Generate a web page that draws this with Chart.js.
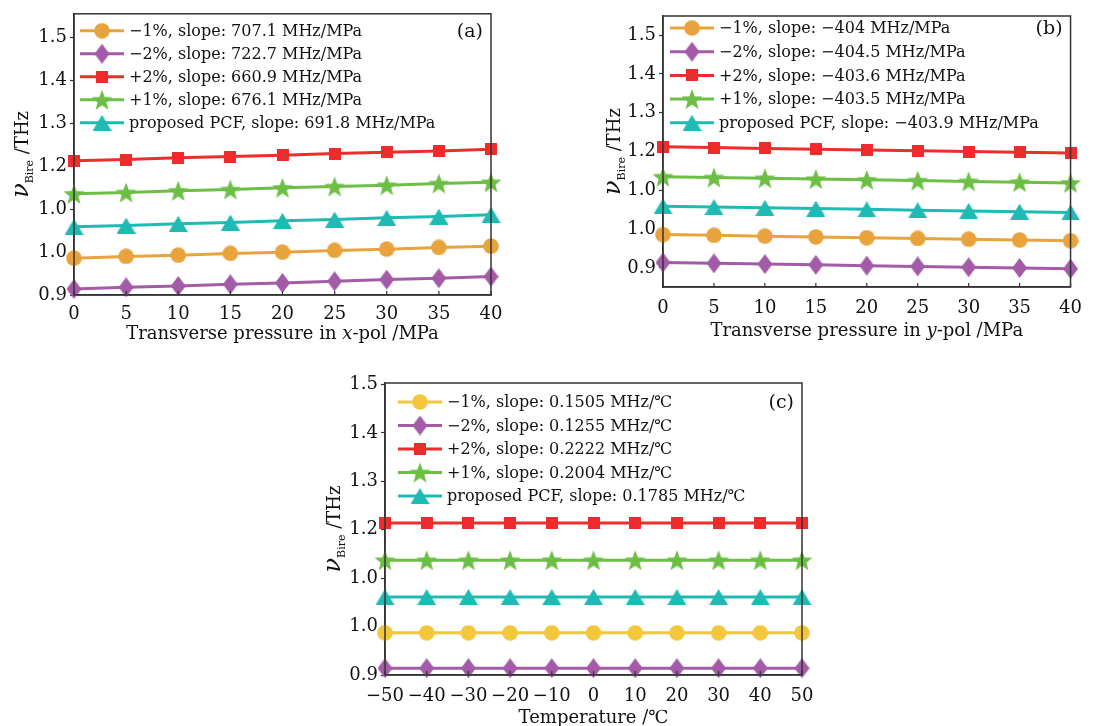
<!DOCTYPE html>
<html>
<head>
<meta charset="utf-8">
<script src="https://cdn.jsdelivr.net/npm/chart.js@4.4.1/dist/chart.umd.min.js"></script>
<style>
  body { margin: 0; background: #fff; width: 1093px; height: 726px; position: relative; overflow: hidden; }
  .panel { position: absolute; }
</style>
</head>
<body>
<div class="panel" style="left:0;top:0"><canvas id="chartA" width="520" height="345"></canvas></div>
<div class="panel" style="left:580px;top:0"><canvas id="chartB" width="513" height="345"></canvas></div>
<div class="panel" style="left:300px;top:360px"><canvas id="chartC" width="530" height="366"></canvas></div>
<script>
// x values
const pressure = [0, 5, 10, 15, 20, 25, 30, 35, 40];
const temperature = [-50, -40, -30, -20, -10, 0, 10, 20, 30, 40, 50];

// y ticks (labels as printed in the figure)
const yTickValues = [0.9, 1.0, 1.1, 1.2, 1.3, 1.4, 1.5];
const yTickLabels = ['0.9', '1.0', '1.0', '1.2', '1.3', '1.4', '1.5'];

const seriesNames = ['−1%', '−2%', '+2%', '+1%', 'proposed PCF'];
const slopesA = ['707.1', '722.7', '660.9', '676.1', '691.8'];
const slopesB = ['−404', '−404.5', '−403.6', '−403.5', '−403.9'];
const slopesC = ['0.1505', '0.1255', '0.2222', '0.2004', '0.1785'];

// (a) x-pol pressure, THz
const minus1A = [0.986, 0.990, 0.993, 0.997, 1.000, 1.004, 1.007, 1.011, 1.014];
const minus2A = [0.914, 0.918, 0.921, 0.925, 0.928, 0.932, 0.936, 0.939, 0.943];
const plus2A = [1.213, 1.216, 1.220, 1.223, 1.226, 1.230, 1.233, 1.236, 1.240];
const plus1A = [1.136, 1.139, 1.143, 1.146, 1.150, 1.153, 1.156, 1.160, 1.163];
const pcfA = [1.059, 1.062, 1.066, 1.069, 1.073, 1.076, 1.080, 1.083, 1.087];

// (b) y-pol pressure
const minus1B = [0.986, 0.984, 0.982, 0.980, 0.978, 0.976, 0.974, 0.972, 0.970];
const minus2B = [0.914, 0.912, 0.910, 0.908, 0.906, 0.904, 0.902, 0.900, 0.898];
const plus2B = [1.212, 1.210, 1.208, 1.206, 1.204, 1.202, 1.200, 1.198, 1.196];
const plus1B = [1.135, 1.133, 1.131, 1.129, 1.127, 1.125, 1.123, 1.121, 1.119];
const pcfB = [1.059, 1.057, 1.055, 1.053, 1.051, 1.049, 1.047, 1.045, 1.043];

// (c) temperature
const minus1C = [0.987, 0.987, 0.987, 0.987, 0.987, 0.987, 0.987, 0.987, 0.987, 0.987, 0.987];
const minus2C = [0.914, 0.914, 0.914, 0.914, 0.914, 0.914, 0.914, 0.914, 0.914, 0.914, 0.914];
const plus2C = [1.214, 1.214, 1.214, 1.214, 1.214, 1.214, 1.214, 1.214, 1.214, 1.214, 1.214];
const plus1C = [1.137, 1.137, 1.137, 1.137, 1.137, 1.137, 1.137, 1.137, 1.137, 1.137, 1.137];
const pcfC = [1.061, 1.061, 1.061, 1.061, 1.061, 1.061, 1.061, 1.061, 1.061, 1.061, 1.061];

const colorsAB = ['#E8A33C', '#A35BA8', '#EE2C2C', '#6CBF44', '#20BAB4'];
const colorsC = ['#F4C63B', '#A35BA8', '#EE2C2C', '#6CBF44', '#20BAB4'];
const shapes = ['circle', 'diamond', 'square', 'star', 'triangle'];

const FONT = "'DejaVu Serif', 'Liberation Serif', serif";
const INK = '#111';
Chart.defaults.font.family = FONT;
Chart.defaults.color = INK;

function makeMarker(shape, color) {
  const c = document.createElement('canvas');
  const ctx = c.getContext('2d');
  ctx.fillStyle = color;
  if (shape === 'circle') {
    c.width = 16; c.height = 16;
    ctx.fillStyle = color;
    ctx.beginPath();
    ctx.arc(8, 8, 7.8, 0, Math.PI * 2);
    ctx.fill();
  } else if (shape === 'diamond') {
    c.width = 15; c.height = 20;
    ctx.fillStyle = color;
    ctx.beginPath();
    ctx.moveTo(7.5, 0); ctx.lineTo(15, 10); ctx.lineTo(7.5, 20); ctx.lineTo(0, 10);
    ctx.closePath();
    ctx.fill();
  } else if (shape === 'square') {
    c.width = 12; c.height = 12;
    ctx.fillStyle = color;
    ctx.fillRect(0, 0, 12, 12);
  } else if (shape === 'star') {
    c.width = 22; c.height = 22;
    ctx.fillStyle = color;
    ctx.beginPath();
    for (let k = 0; k < 10; k++) {
      const r = k % 2 === 0 ? 11 : 4.6;
      const a = -Math.PI / 2 + k * Math.PI / 5;
      const px = 11 + r * Math.cos(a);
      const py = 12 + r * Math.sin(a);
      if (k === 0) ctx.moveTo(px, py); else ctx.lineTo(px, py);
    }
    ctx.closePath();
    ctx.fill();
  } else {
    c.width = 19; c.height = 16;
    ctx.fillStyle = color;
    ctx.beginPath();
    ctx.moveTo(9.5, 0); ctx.lineTo(19, 16); ctx.lineTo(0, 16);
    ctx.closePath();
    ctx.fill();
  }
  return c;
}

function drawParts(ctx, parts, x, y) {
  parts.forEach((p) => {
    ctx.font = p.font;
    ctx.fillText(p.t, x, y + (p.dy || 0));
    x += ctx.measureText(p.t).width;
  });
}

function partsWidth(ctx, parts) {
  return parts.reduce((acc, p) => {
    ctx.font = p.font;
    return acc + ctx.measureText(p.t).width;
  }, 0);
}

const decor = {
  id: 'decor',
  afterDraw(chart, args, opts) {
    const ctx = chart.ctx;
    const area = chart.chartArea;
    ctx.save();

    // frame
    ctx.strokeStyle = '#333';
    ctx.lineWidth = 1.5;
    ctx.strokeRect(area.left, area.top, area.right - area.left, area.bottom - area.top);

    // inward x ticks
    const xs = chart.scales.x;
    ctx.lineWidth = 1.2;
    xs.ticks.forEach((t) => {
      const px = xs.getPixelForValue(t.value);
      ctx.beginPath();
      ctx.moveTo(px, area.bottom);
      ctx.lineTo(px, area.bottom - 4);
      ctx.stroke();
    });

    // legend
    ctx.textBaseline = 'middle';
    ctx.textAlign = 'left';
    opts.labels.forEach((label, i) => {
      const y = area.top + opts.legTop + i * opts.legStep;
      const x0 = area.left + opts.legLeft;
      ctx.strokeStyle = opts.colors[i];
      ctx.lineWidth = 3;
      ctx.beginPath();
      ctx.moveTo(x0, y);
      ctx.lineTo(x0 + 44, y);
      ctx.stroke();
      const m = opts.markers[i];
      ctx.drawImage(m, x0 + 22 - m.width / 2, y - m.height / 2);
      ctx.fillStyle = INK;
      ctx.font = `16px ${FONT}`;
      ctx.fillText(label, x0 + 49, y + 1);
    });

    // panel letter
    ctx.font = `19px ${FONT}`;
    ctx.textAlign = 'right';
    ctx.fillText(opts.letter, area.right - 8, area.top + opts.legTop + 1);

    // x title
    ctx.textAlign = 'left';
    ctx.textBaseline = 'alphabetic';
    const xw = partsWidth(ctx, opts.xTitle);
    drawParts(ctx, opts.xTitle, (area.left + area.right) / 2 - xw / 2, area.bottom + opts.xTitleGap);

    // y title
    const yParts = [
      { t: 'ν', font: `italic 24px ${FONT}` },
      { t: 'Bire', font: `11px ${FONT}`, dy: 5 },
      { t: ' /THz', font: `18px ${FONT}` },
    ];
    const yw = partsWidth(ctx, yParts);
    ctx.translate(opts.yTitleX, (area.top + area.bottom) / 2);
    ctx.rotate(-Math.PI / 2);
    drawParts(ctx, yParts, -yw / 2, 0);

    ctx.restore();
  },
};

function makeChart(id, cfg) {
  const markers = shapes.map((s, i) => makeMarker(s, cfg.colors[i]));
  return new Chart(document.getElementById(id), {
    type: 'line',
    data: {
      datasets: cfg.series.map((values, i) => ({
        label: seriesNames[i],
        data: cfg.x.map((x, j) => ({ x, y: values[j] })),
        borderColor: cfg.colors[i],
        backgroundColor: cfg.colors[i],
        borderWidth: 3,
        pointStyle: markers[i],
        pointRadius: 8,
        tension: 0,
        clip: false,
      })),
    },
    options: {
      responsive: false,
      animation: false,
      devicePixelRatio: 1,
      events: [],
      layout: { padding: { top: cfg.padTop, right: cfg.padRight, left: 0, bottom: 0 } },
      plugins: {
        legend: { display: false },
        tooltip: { enabled: false },
        decor: {
          labels: cfg.labels,
          colors: cfg.colors,
          markers,
          letter: cfg.letter,
          legLeft: cfg.legLeft,
          legTop: cfg.legTop,
          legStep: cfg.legStep,
          xTitle: cfg.xTitle,
          xTitleGap: cfg.xTitleGap,
          yTitleX: cfg.yTitleX,
        },
      },
      scales: {
        x: {
          type: 'linear',
          min: cfg.x[0],
          max: cfg.x[cfg.x.length - 1],
          afterBuildTicks: (s) => { s.ticks = cfg.x.map((v) => ({ value: v })); },
          afterFit: (s) => { s.height = cfg.xHeight; },
          ticks: {
            font: { size: 18 },
            padding: cfg.xTickPad,
            maxRotation: 0,
            autoSkip: false,
            callback: (v) => String(v).replace('-', '−'),
          },
          grid: { drawOnChartArea: false, drawTicks: false },
          border: { color: '#333', width: 1.5 },
        },
        y: {
          min: cfg.yMin,
          max: cfg.yMax,
          afterBuildTicks: (s) => { s.ticks = yTickValues.map((v) => ({ value: v })); },
          afterFit: (s) => { s.width = cfg.yWidth; },
          ticks: {
            font: { size: 18 },
            padding: 3,
            callback: (v, i) => yTickLabels[i],
          },
          grid: { drawOnChartArea: false, tickLength: 4, color: '#333', tickWidth: 1.2 },
          border: { color: '#333', width: 1.5 },
        },
      },
    },
    plugins: [decor],
  });
}

const roman = `18px ${FONT}`;
const ital = `italic 18px ${FONT}`;

makeChart('chartA', {
  x: pressure,
  series: [minus1A, minus2A, plus2A, plus1A, pcfA],
  colors: colorsAB,
  labels: seriesNames.map((n, i) => `${n}, slope: ${slopesA[i]} MHz/MPa`),
  letter: '(a)',
  yMin: 0.9, yMax: 1.556,
  padTop: 13, padRight: 29, yWidth: 74, xHeight: 50, xTickPad: 9,
  legLeft: 6, legTop: 17, legStep: 23,
  xTitle: [{ t: 'Transverse pressure in ', font: roman }, { t: 'x', font: ital }, { t: '-pol /MPa', font: roman }],
  xTitleGap: 44,
  yTitleX: 28,
});

makeChart('chartB', {
  x: pressure,
  series: [minus1B, minus2B, plus2B, plus1B, pcfB],
  colors: colorsAB,
  labels: seriesNames.map((n, i) => `${n}, slope: ${slopesB[i]} MHz/MPa`),
  letter: '(b)',
  yMin: 0.851, yMax: 1.549,
  padTop: 16, padRight: 13, yWidth: 83, xHeight: 58, xTickPad: 11,
  legLeft: 7, legTop: 12, legStep: 23.7,
  xTitle: [{ t: 'Transverse pressure in ', font: roman }, { t: 'y', font: ital }, { t: '-pol /MPa', font: roman }],
  xTitleGap: 49,
  yTitleX: 40,
});

makeChart('chartC', {
  x: temperature,
  series: [minus1C, minus2C, plus2C, plus1C, pcfC],
  colors: colorsC,
  labels: seriesNames.map((n, i) => `${n}, slope: ${slopesC[i]} MHz/℃`),
  letter: '(c)',
  yMin: 0.9, yMax: 1.503,
  padTop: 23, padRight: 28, yWidth: 85, xHeight: 51, xTickPad: 11,
  legLeft: 13, legTop: 19, legStep: 23.5,
  xTitle: [{ t: 'Temperature /℃', font: roman }],
  xTitleGap: 48,
  yTitleX: 40,
});
</script>
</body>
</html>
